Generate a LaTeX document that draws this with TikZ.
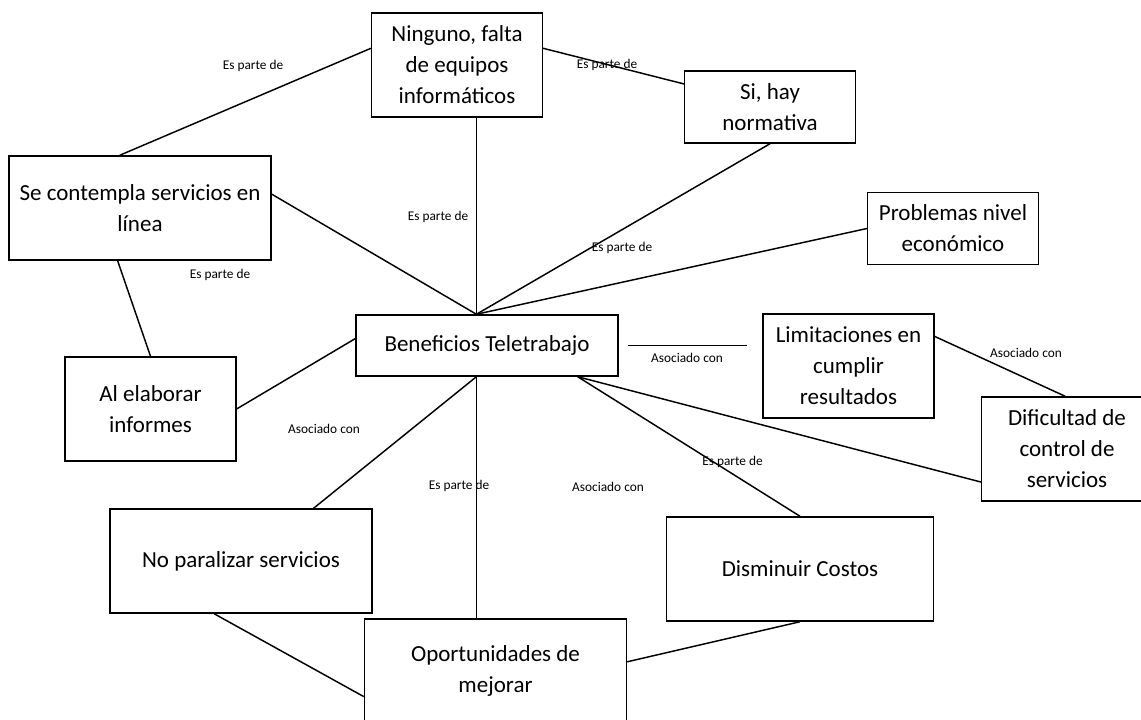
\documentclass[tikz,border=0pt]{standalone}
\usepackage{fontspec}
\setmainfont{Carlito}
\usetikzlibrary{calc}
\tikzset{
    concept/.style={draw, line width=1.1pt, align=center, inner sep=0pt,
        font={\fontsize{17.25}{23.25}\selectfont}},
    narrow/.style={concept, minimum width=128pt, minimum height=78pt},
    broad/.style={concept, minimum width=196.5pt, minimum height=78pt},
    flat/.style={concept, minimum width=128pt, minimum height=54pt},
    relation/.style={inner sep=0pt, font={\fontsize{10}{12}\selectfont}},
    link/.style={line width=1.1pt}
}

\begin{document}
\begin{tikzpicture}[x=0.75pt, y=-0.75pt]
    \useasboundingbox (0,0) rectangle (1141,720);
    % Central concept
    \node[concept, minimum width=196.5pt, minimum height=45.75pt] (Beneficios) at (487,345.5) {Beneficios Teletrabajo};
    \coordinate (HubTop) at ($(Beneficios.north)+(-10.6,0)$);
    \coordinate (HubBottom) at ($(Beneficios.south)+(-10.6,0)$);
    % Upper concepts
    \node[narrow] (Ninguno) at (457,65) {Ninguno, falta\\de equipos\\informáticos};
    \node[flat] (SiHay) at (770,107) {Si, hay\\normativa};
    \node[broad] (Contempla) at (140,208) {Se contempla servicios en\\línea};
    \node[flat] (Problemas) at (953,228.5) {Problemas nivel\\económico};
    % Side concepts
    \node[narrow] (Elaborar) at (150.5,409) {Al elaborar\\informes};
    \node[narrow] (Limitaciones) at (848.5,366) {Limitaciones en\\cumplir\\resultados};
    \node[narrow] (Dificultad) at (1067,449) {Dificultad de\\control de\\servicios};
    % Lower concepts
    \node[broad] (Paralizar) at (241,561) {No paralizar servicios};
    \node[broad, minimum width=200pt] (Disminuir) at (800,569) {Disminuir Costos};
    \node[broad] (Oportunidades) at (495.5,671) {Oportunidades de\\mejorar};

    % Links
    \draw[link] (Ninguno.169) -- (Contempla.111);
    \draw[link] (Ninguno.11) -- (SiHay.165);
    \draw[link] (Ninguno.south -| HubTop) -- (HubTop);
    \draw[link] (Contempla.6) -- (HubTop);
    \draw[link] (Contempla.247) -- (Elaborar.north);
    \draw[link] (SiHay.south) -- (HubTop);
    \draw[link] (Problemas.west) -- (HubTop);
    \draw[link] (Beneficios.177) -- (Elaborar.east);
    \draw[link, shorten <=7pt, shorten >=11.6pt] (Beneficios.east) -- (Beneficios.east -| Limitaciones.west);
    \draw[link] (Limitaciones.19) -- (Dificultad.92);
    \draw[link] (HubBottom) -- (Paralizar.36);
    \draw[link] (HubBottom) -- (HubBottom |- Oportunidades.north);
    \draw[link] (Beneficios.-19) -- (Disminuir.north);
    \draw[link] (Beneficios.-19) -- (Dificultad.201);
    \draw[link] (Paralizar.243) -- (Oportunidades.191);
    \draw[link] (Disminuir.south) -- (Oportunidades.4);

    % Relation labels
    \node[relation] (relA) at (253,66) {Es parte de};
    \node[relation] (relB) at (607,65) {Es parte de};
    \node[relation] (relC) at (438,217) {Es parte de};
    \node[relation] (relD) at (220,275) {Es parte de};
    \node[relation] (relE) at (622,248) {Es parte de};
    \node[relation] (relF) at (687,358) {Asociado con};
    \node[relation] (relG) at (1026,353) {Asociado con};
    \node[relation] (relH) at (324,429) {Asociado con};
    \node[relation] (relI) at (459,486) {Es parte de};
    \node[relation] (relJ) at (608,487) {Asociado con};
    \node[relation] (relK) at (732.5,462) {Es parte de};
\end{tikzpicture}
\end{document}
